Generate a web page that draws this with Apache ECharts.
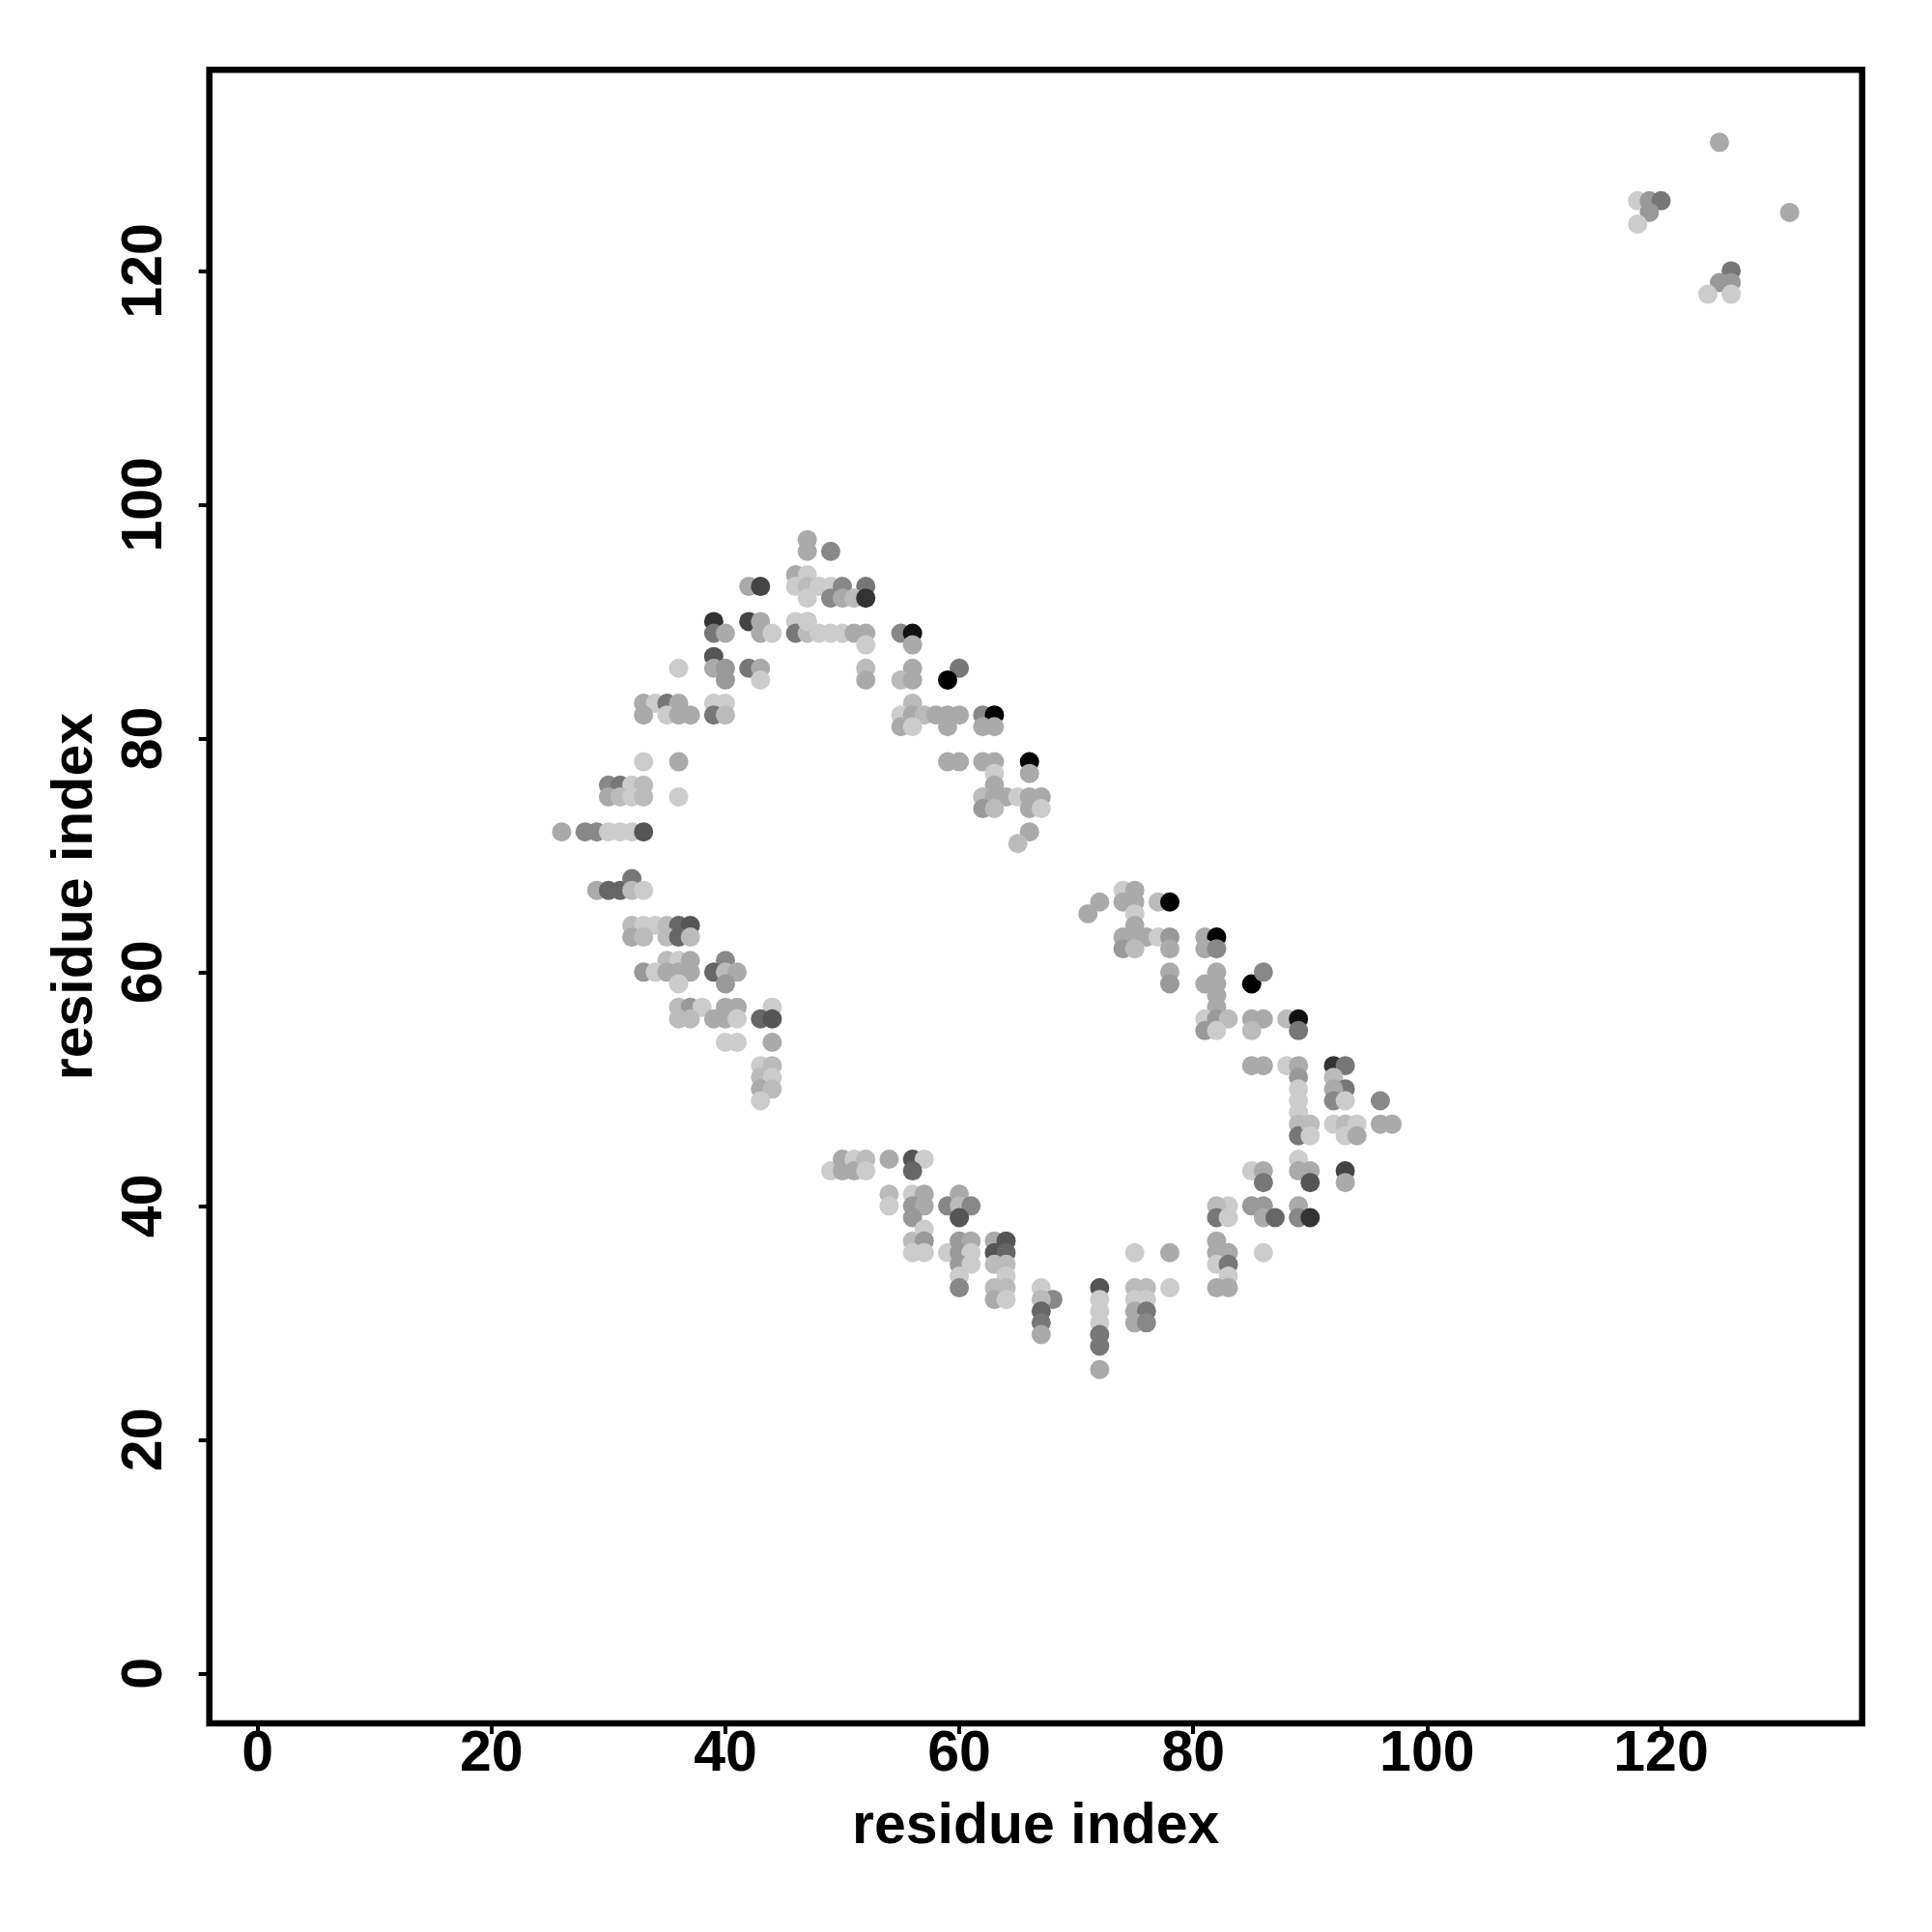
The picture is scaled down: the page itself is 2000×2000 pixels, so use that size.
<!DOCTYPE html>
<html>
<head>
<meta charset="utf-8">
<script src="https://cdn.jsdelivr.net/npm/echarts@6/dist/echarts.min.js"></script>
<style>
html,body{margin:0;padding:0;background:#fff;}
#chart{width:2000px;height:2000px;}
</style>
</head>
<body>
<div id="chart"></div>
<script>
// residue i (x), residue j (y), grey tone of the point (0 = black, 204 = light grey)
const xs = [
47,47,46,47,46,47,48,47,42,43,39,39,40,42,43,43,44,46,47,46,47,48,36,39,39,40,40,42,43,43,
33,34,35,36,33,35,36,37,39,40,39,40,33,36,30,31,32,33,30,31,32,33,36,26,28,29,30,31,32,33,
49,49,50,52,49,50,51,52,47,49,50,51,52,52,55,56,56,52,52,56,55,56,60,59,56,55,56,57,58,59,60,
55,56,59,62,63,62,63,59,60,62,63,66,66,63,63,62,63,64,65,66,67,62,63,66,67,66,65,
29,30,31,32,32,33,32,33,34,35,36,37,32,33,35,36,37,35,36,37,40,33,34,35,36,37,39,40,41,36,40,
36,37,38,40,41,44,36,37,39,40,41,43,44,40,41,44,43,44,43,44,43,44,43,
72,71,74,75,74,75,75,77,78,75,74,75,76,77,78,74,75,78,78,78,81,82,81,82,82,81,82,82,82,
81,82,83,81,82,85,86,85,86,85,85,
88,89,89,86,88,89,89,92,93,92,93,92,92,93,89,89,89,89,89,90,90,92,93,94,93,94,96,96,97,
85,86,86,89,89,90,90,93,93,83,85,86,86,87,89,89,90,
49,50,50,51,51,52,52,54,56,57,56,54,54,56,57,56,57,56,59,60,60,61,60,56,57,57,56,57,
59,60,61,60,61,60,61,60,60,63,64,63,64,63,64,64,63,64,63,64,67,68,67,67,67,67,
72,72,72,72,72,72,72,75,78,78,75,76,75,76,75,76,75,76,82,82,83,82,83,83,82,83,82,82,83,86,
125,118,119,120,119,118,131,126,125,126,124,126
];
const ys = [
97,96,94,94,93,93,93,92,93,93,90,89,89,90,90,89,89,90,90,89,89,89,86,87,86,86,85,86,86,85,
83,83,83,83,82,82,82,82,83,83,82,82,78,78,76,76,76,76,75,75,75,75,75,72,72,72,72,72,72,72,
96,93,93,93,92,92,92,92,90,89,89,89,89,88,89,89,88,86,85,86,85,85,86,85,83,82,82,82,82,82,82,
81,81,81,82,82,81,81,78,78,78,78,78,77,77,76,75,75,75,75,75,75,74,74,74,74,72,71,
67,67,67,68,67,67,64,64,64,64,64,64,63,63,63,63,63,61,61,61,61,60,60,60,60,60,60,60,60,59,59,
57,57,57,57,57,57,56,56,56,56,56,56,56,54,54,54,52,52,51,51,50,50,49,
66,65,67,67,66,66,65,66,66,64,63,63,63,63,63,62,62,62,60,59,63,63,62,62,60,59,59,58,57,
56,56,56,55,55,59,60,56,56,55,52,
56,56,55,52,52,52,51,52,52,51,50,50,49,49,50,49,48,47,46,47,46,47,47,47,46,46,49,47,47,
43,43,42,44,43,43,42,43,42,40,40,40,39,39,40,39,39,
43,44,43,44,43,44,43,44,44,44,43,41,40,41,41,40,40,39,40,41,40,40,39,37,38,37,36,36,
36,37,37,36,36,35,35,34,33,37,37,36,36,35,35,34,33,33,32,32,33,32,32,31,30,29,
33,32,31,30,29,28,26,36,36,33,33,33,32,32,31,31,30,30,37,36,36,35,35,34,33,33,40,39,39,36,
131,126,126,126,125,124,125,120,119,119,118,118
];
const tones = [
170,170,170,204,204,187,204,204,170,68,51,119,170,68,170,170,204,204,187,119,187,204,204,85,170,153,153,119,170,204,
170,204,119,170,170,204,170,170,204,204,119,187,204,170,136,119,204,187,170,187,204,187,204,170,136,136,204,204,204,85,
136,204,136,119,136,170,187,51,204,204,204,170,170,204,136,17,170,187,170,170,187,170,119,0,187,204,170,187,170,170,170,
170,204,170,136,0,170,170,170,170,170,170,0,170,204,170,187,170,170,204,170,170,153,187,170,204,170,187,
170,102,102,119,187,204,187,204,204,187,102,85,170,187,187,102,187,187,204,170,136,153,204,170,170,170,102,187,170,204,153,
187,153,204,170,170,204,187,187,170,170,204,102,85,204,204,170,204,187,187,204,170,187,204,
170,170,204,170,170,170,204,187,0,170,170,170,170,204,153,153,187,170,170,153,170,0,170,136,170,170,170,170,170,
204,153,187,153,204,0,136,170,170,187,170,
187,17,119,170,204,170,153,51,119,187,119,170,136,204,204,204,204,187,119,187,204,204,187,204,204,170,136,170,170,
204,170,119,204,170,170,85,68,170,204,153,153,170,102,170,136,51,
204,170,170,204,170,187,204,170,85,204,102,187,204,204,170,153,170,153,136,170,187,136,85,187,204,153,204,204,
204,153,170,153,204,153,204,204,136,170,85,85,102,187,187,204,187,187,170,204,204,136,187,102,119,170,
85,204,204,204,119,119,170,204,170,204,187,187,204,204,170,119,170,136,170,170,170,204,119,204,170,170,187,119,204,204,
170,204,153,119,153,204,170,119,153,153,204,204
];
const tickValues = [0, 20, 40, 60, 80, 100, 120];

const points = xs.map((x, i) => [x, ys[i], tones[i]]);

const FONT = '"Liberation Sans", Arial, Helvetica, sans-serif';
const chart = echarts.init(document.getElementById('chart'), null, {renderer: 'canvas'});
chart.setOption({
  animation: false,
  backgroundColor: '#ffffff',
  grid: {
    left: 216.7, top: 72.3, width: 1711, height: 1711.7,
    show: true, borderColor: '#000', borderWidth: 6.5, backgroundColor: 'transparent'
  },
  visualMap: {
    type: 'continuous', show: false, dimension: 2, min: 0, max: 204,
    inRange: {color: ['#000000', '#cccccc']}
  },
  xAxis: {
    type: 'value', min: -4.13, max: 137.2,
    splitLine: {show: false},
    axisLine: {show: false, onZero: false},
    axisTick: {show: true, customValues: tickValues, length: 11, lineStyle: {color: '#000', width: 4}},
    axisLabel: {customValues: tickValues, color: '#000', fontSize: 59, fontWeight: 'bold', fontFamily: FONT, margin: 3},
    name: 'residue index', nameLocation: 'middle', nameGap: 78,
    nameTextStyle: {color: '#000', fontSize: 59, fontWeight: 'bold', fontFamily: FONT}
  },
  yAxis: {
    type: 'value', min: -4.27, max: 137.2,
    splitLine: {show: false},
    axisLine: {show: false, onZero: false},
    axisTick: {show: true, customValues: tickValues, length: 11, lineStyle: {color: '#000', width: 4}},
    axisLabel: {customValues: tickValues, rotate: 90, color: '#000', fontSize: 59, fontWeight: 'bold', fontFamily: FONT, margin: 36},
    name: 'residue index', nameLocation: 'middle', nameGap: 108, nameRotate: 90,
    nameTextStyle: {color: '#000', fontSize: 59, fontWeight: 'bold', fontFamily: FONT}
  },
  series: [{
    type: 'scatter',
    symbol: 'circle',
    symbolSize: 20,
    data: points,
    itemStyle: {opacity: 1}
  }]
});
</script>
</body>
</html>
